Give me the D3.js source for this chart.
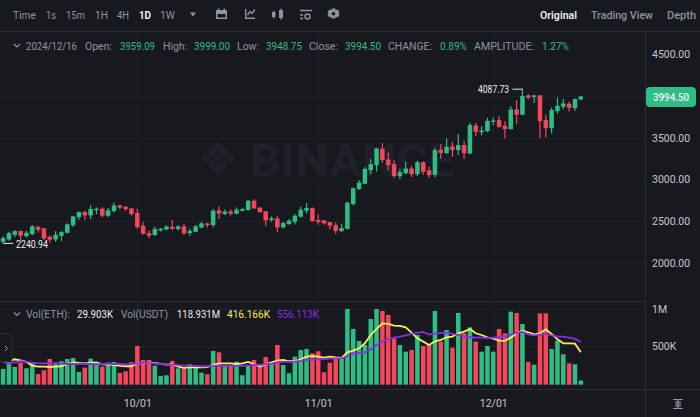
<!DOCTYPE html>
<html><head><meta charset="utf-8">
<script src="https://cdn.jsdelivr.net/npm/d3@7"></script>
<style>html,body{margin:0;padding:0;background:#17191f;overflow:hidden}svg{display:block}text{font-family:Roboto,"Noto Sans",sans-serif}</style>
</head><body><svg id="c" width="700" height="417"></svg>
<script>
const opens=[2254,2282,2338,2382,2322,2346,2434,2414,2314,2282,2326,2362,2454,2550,2610,2570,2634,2650,2566,2622,2690,2674,2654,2598,2446,2358,2334,2390,2402,2434,2406,2438,2358,2374,2426,2474,2454,2630,2586,2618,2590,2626,2634,2746,2662,2618,2514,2534,2426,2466,2494,2554,2626,2658,2514,2510,2490,2454,2382,2410,2706,2886,2948,3112,3172,3368,3240,3184,3040,3076,3132,3064,3208,3108,3056,3356,3316,3396,3352,3412,3312,3647,3567,3579,3691,3711,3643,3603,3839,3775,4007,3987,4007,3711,3615,3819,3871,3907,3855,3959.09];
const closes=[2298,2358,2382,2326,2362,2438,2398,2294,2278,2338,2370,2462,2558,2610,2570,2646,2650,2566,2630,2690,2662,2646,2586,2430,2350,2326,2406,2410,2438,2410,2438,2354,2382,2438,2474,2454,2626,2594,2614,2590,2638,2646,2746,2654,2610,2510,2534,2426,2478,2506,2566,2638,2658,2502,2490,2474,2446,2386,2418,2722,2894,2962,3128,3184,3372,3232,3172,3040,3088,3132,3064,3208,3092,3052,3352,3316,3392,3352,3412,3316,3652,3571,3587,3703,3707,3631,3603,3839,3775,3999,3979,4007,3699,3615,3831,3883,3911,3859,3963,3994.5];
const highs=[2322,2374,2394,2390,2382,2454,2442,2418,2330,2382,2382,2474,2562,2618,2626,2694,2666,2666,2658,2722,2698,2682,2658,2650,2490,2390,2434,2418,2450,2514,2454,2466,2410,2454,2494,2482,2646,2682,2642,2642,2666,2662,2754,2766,2670,2622,2558,2562,2494,2526,2586,2674,2718,2666,2582,2514,2490,2486,2470,2734,2906,2994,3148,3244,3380,3436,3324,3232,3128,3216,3160,3224,3216,3152,3380,3424,3492,3448,3544,3460,3680,3679,3639,3739,3743,3759,3699,3879,3951,4087.73,4023,4011,4007,3775,3863,3983,3967,3935,3971,3999];
const lows=[2240.94,2266,2310,2266,2306,2334,2366,2274,2242,2254,2262,2354,2430,2518,2514,2526,2582,2546,2550,2606,2642,2622,2566,2410,2342,2298,2326,2378,2394,2394,2390,2338,2322,2370,2414,2426,2430,2526,2574,2566,2582,2618,2626,2646,2602,2442,2494,2370,2414,2458,2462,2546,2590,2494,2458,2458,2402,2350,2374,2402,2690,2874,2944,3060,3096,3200,3112,3020,3004,3064,3028,3040,3056,3020,3024,3248,3308,3272,3292,3244,3304,3523,3527,3567,3651,3619,3491,3599,3671,3770,3959,3915,3499,3503,3551,3791,3839,3815,3823,3948.75];
const volumes=[187,282,214,273,196,278,119,169,323,273,292,323,337,146,205,328,255,219,273,282,133,155,278,500,310,310,233,92,101,296,196,196,251,219,137,115,432,414,242,242,287,101,233,310,233,351,278,514,242,128,355,446,460,401,428,142,273,342,342,1004,732,569,514,868,1004,977,923,605,514,423,446,650,500,514,977,560,718,478,950,673,755,560,423,500,423,732,673,968,950,800,283,246,945,945,460,573,387,264,251,29.903];
const maYellow=[287,296,319,305,283,233,219,219,214,219,224,255,278,269,264,273,278,251,246,242,228,224,224,264,264,273,269,255,246,251,219,201,210,210,210,214,242,264,264,264,255,264,283,255,219,246,278,301,310,292,292,319,355,364,355,342,355,345,337,414,437,469,537,650,732,809,800,777,773,755,682,605,560,514,564,582,619,628,673,696,732,673,650,619,600,573,569,614,673,709,687,659,673,727,664,591,537,537,532,416.166];
const maPurple=[287,264,278,292,287,273,264,264,264,264,264,255,255,255,255,255,251,255,260,255,255,251,255,260,269,269,264,255,251,246,242,233,233,228,224,224,228,233,228,228,228,228,237,242,242,251,260,278,283,283,287,296,310,314,319,323,328,332,332,364,401,405,414,455,514,560,596,614,628,646,664,682,691,655,668,678,682,664,650,632,619,614,614,609,614,619,628,655,678,691,659,646,655,664,646,632,628,614,596,556.113];
const priceTicks=[4500,3500,3000,2500,2000];
const gridPrices=[4000,3500,3000,2500,2000];
const volTicks=[500,1000];
const dateTicks=[23,54,84];
const dateLabels=["10/01","11/01","12/01"];
const intervals=["Time","1s","15m","1H","4H","1D","1W"];
const views=["Original","Trading View","Depth"];

const GREEN="#2ebd85",RED="#f6465d",GRID="#1f2228",LINE="#2a2d34",MUTED="#8d95a1",AXIS="#c3c8cf";
const svg=d3.select("#c");
svg.append("rect").attr("width",700).attr("height",417).attr("fill","#17191f");
const x=d3.scaleLinear().domain([0,99]).range([3.1,580.8]);
const y=d3.scaleLinear().domain([2000,4500]).range([263,54.25]);
const yv=d3.scaleLinear().domain([0,1000]).range([382.7,309.3]);
const volBase=yv(-27);

function txt(s,px,py,col,len,o={}){
  const t=svg.append("text").attr("x",px).attr("y",py).attr("fill",col).attr("font-size",o.size||10.5)
    .attr("dominant-baseline","central").attr("font-weight",o.weight||400).text(s);
  if(len)t.attr("textLength",len).attr("lengthAdjust","spacingAndGlyphs");
  return t;
}
// watermark
const wm=svg.append("g").attr("fill","#1e2127");
wm.append("path").attr("d","M218 141 L229 152 L224 157 L218 151 L212 157 L207 152 Z M201 158 L206 153 L211 158 L206 163 Z M235 158 L230 153 L225 158 L230 163 Z M218 175 L207 164 L212 159 L218 165 L224 159 L229 164 Z M218 153 L223 158 L218 163 L213 158 Z");
wm.append("text").attr("x",250).attr("y",176).attr("font-size",44).attr("font-weight",700).attr("textLength",205).attr("lengthAdjust","spacingAndGlyphs").text("BINANCE");

// frame + grid
const hl=(yy,x1=0,x2=700,c=LINE)=>svg.append("line").attr("x1",x1).attr("x2",x2).attr("y1",yy).attr("y2",yy).attr("stroke",c);
gridPrices.forEach(p=>hl(Math.round(y(p))+.5,0,645,GRID));
volTicks.forEach(v=>hl(Math.round(yv(v))+.5,0,645,GRID));
dateTicks.forEach(i=>svg.append("line").attr("x1",Math.round(x(i))+.5).attr("x2",Math.round(x(i))+.5).attr("y1",31).attr("y2",390).attr("stroke",GRID));
hl(31.5);hl(301.5,0,645);hl(389.5);
svg.append("line").attr("x1",645.5).attr("x2",645.5).attr("y1",31).attr("y2",417).attr("stroke",LINE);

// candles
const idx=d3.range(opens.length);
const up=i=>closes[i]>=opens[i];
const col=i=>up(i)?GREEN:RED;
svg.append("g").selectAll("rect").data(idx).join("rect")
  .attr("x",i=>x(i)-.6).attr("width",1.2).attr("y",i=>y(highs[i])).attr("height",i=>y(lows[i])-y(highs[i])).attr("fill",col);
svg.append("g").selectAll("rect").data(idx).join("rect")
  .attr("x",i=>x(i)-2.25).attr("width",4.5).attr("y",i=>y(Math.max(opens[i],closes[i])))
  .attr("height",i=>Math.max(1,Math.abs(y(opens[i])-y(closes[i])))).attr("fill",col);
// volume
svg.append("g").selectAll("rect").data(idx).join("rect")
  .attr("x",i=>x(i)-2.25).attr("width",4.5).attr("y",i=>yv(volumes[i])).attr("height",i=>volBase-yv(volumes[i])).attr("fill",col);
const ln=d3.line().x((d,i)=>x(i)).y(d=>yv(d));
svg.append("path").attr("d",ln(maYellow)).attr("fill","none").attr("stroke","#f7ee5a").attr("stroke-width",1.8);
svg.append("path").attr("d",ln(maPurple)).attr("fill","none").attr("stroke","#8a2be8").attr("stroke-width",1.8);

// axes
const axP=svg.append("g").attr("transform","translate(645,0)").call(d3.axisRight(y).tickValues(priceTicks).tickSize(0).tickPadding(7).tickFormat(d3.format(".2f")));
const axV=svg.append("g").attr("transform","translate(645,0)").call(d3.axisRight(yv).tickValues(volTicks).tickSize(0).tickPadding(7).tickFormat(v=>v>=1000?"1M":v+"K"));
const axT=svg.append("g").attr("transform","translate(0,397)").call(d3.axisBottom(x).tickValues(dateTicks).tickSize(0).tickPadding(3).tickFormat((d,i)=>dateLabels[i]));
[axP,axV,axT].forEach(a=>{a.select(".domain").remove();a.selectAll("text").attr("fill",AXIS).attr("font-size",10.5).attr("font-family","Roboto")});

// last price
svg.append("rect").attr("x",646).attr("y",87).attr("width",50).attr("height",20).attr("rx",4).attr("fill",GREEN);
txt(d3.format(".2f")(closes[99]),653,97,"#f4f6f8",36,{size:10.5,weight:500});

// annotations
const hiI=d3.maxIndex(highs),loI=d3.minIndex(lows);
svg.append("line").attr("x1",x(loI)).attr("x2",x(loI)+10).attr("y1",y(lows[loI])+.5).attr("y2",y(lows[loI])+.5).attr("stroke","#eaecef");
txt(d3.format(".2f")(lows[loI]),16,y(lows[loI])+1.5,"#eaecef",32,{size:10});
svg.append("line").attr("x1",x(hiI)-10).attr("x2",x(hiI)).attr("y1",y(highs[hiI])+.5).attr("y2",y(highs[hiI])+.5).attr("stroke","#eaecef");
txt(d3.format(".2f")(highs[hiI]),478,y(highs[hiI])+.5,"#eaecef",31,{size:10});

// toolbar
const tbX=[13,46,66,95,117,139,160],tbW=[23,10,19,13,12,12,15];
intervals.forEach((s,i)=>txt(s,tbX[i],15,s==="1D"?"#ffffff":MUTED,tbW[i],{size:11,weight:s==="1D"?600:400}));
svg.append("path").attr("d","M190 12.5h6l-3 4z").attr("fill",MUTED);
const fillIc=svg.append("g").attr("fill",MUTED);
const ic=svg.append("g").attr("fill","none").attr("stroke",MUTED).attr("stroke-width",1.4);
// calendar
fillIc.append("path").attr("d","M216 10h2V8.5h1.5V10h4V8.5H225V10h2v4h-11z");
ic.append("path").attr("d","M216.7 14v4.3h9.6V14");
// indicators
ic.append("path").attr("d","M245.7 9v9.3h9.3M247.5 15l2.5-3.5 2 2 3-4");
// candles
fillIc.append("path").attr("d","M272 12h3.5v5h-3.5zM273.3 10.5h1v8h-1zM279 10h4v8h-4zM280.5 8.5h1v11.5h-1z");
// template list
ic.append("path").attr("d","M300 10.5h12M300 15h3M300 18.5h3");
ic.append("circle").attr("cx",307.5).attr("cy",16.5).attr("r",2.5);
// gear
fillIc.append("path").attr("fill-rule","evenodd").attr("d","M331.7 8.5h3.6l.5 1.7 1.6-.7 2.2 2.6-1.1 1.4 1.1 1.4-2.2 2.6-1.6-.7-.5 1.7h-3.6l-.5-1.7-1.6.7-2.2-2.6 1.1-1.4-1.1-1.4 2.2-2.6 1.6.7z M333.5 12a1.8 1.8 0 1 0 0 3.6a1.8 1.8 0 1 0 0-3.6z");
const vX=[540,591,667],vW=[37,62,29];
views.forEach((s,i)=>txt(s,vX[i],15,i===0?"#eaecef":MUTED,vW[i],{size:11,weight:i===0?600:500}));

// info row
const chev=(cx,cy)=>svg.append("path").attr("d",`M${cx-3} ${cy-1.5}l3 3l3-3`).attr("fill","none").attr("stroke",MUTED).attr("stroke-width",1.2);
chev(17,45.5);
const info=[["2024/12/16",26,51,MUTED],["Open:",85,27,MUTED],["3959.09",120,35,GREEN],["High:",163,24,MUTED],["3999.00",194,36,GREEN],["Low:",237,22,MUTED],["3948.75",266,36,GREEN],["Close:",309,29,MUTED],["3994.50",345,36,GREEN],["CHANGE:",388,44,MUTED],["0.89%",440,27,GREEN],["AMPLITUDE:",474,60,MUTED],["1.27%",542,27,GREEN]];
info.forEach(a=>txt(a[0],a[1],46,a[3],a[2]));
chev(17,314);
const volInfo=[["Vol(ETH):",26,44,MUTED],["29.903K",77,36,"#eaecef"],["Vol(USDT)",121,47,MUTED],["118.931M",177,43,"#eaecef"],["416.166K",227,43,"#f7ee5a"],["556.113K",277,42,"#8a2be8"]];
volInfo.forEach(a=>txt(a[0],a[1],314,a[3],a[2]));

// left handle
svg.append("path").attr("d","M-1 333.5h10a3 3 0 0 1 3 3v22a3 3 0 0 1-3 3h-10").attr("fill","#17191f").attr("stroke",LINE);
svg.append("path").attr("d","M5 346l2.5 2.5l-2.5 2.5").attr("fill","none").attr("stroke",MUTED);
// scale icon
svg.append("path").attr("d","M673 399.5h10M673 408.5h10M675 402h6M675 404h6M675 406h6M678 399v10").attr("fill","none").attr("stroke",MUTED).attr("stroke-width",1.2);
</script></body></html>
